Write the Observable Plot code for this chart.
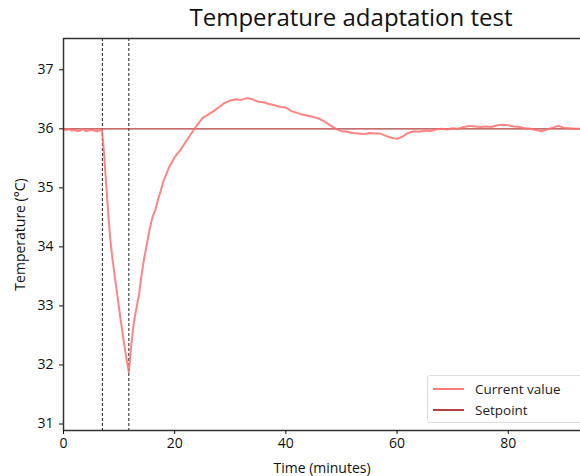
<!DOCTYPE html>
<html>
<head>
<meta charset="utf-8">
<script src="https://cdn.jsdelivr.net/npm/d3@7"></script>
<script src="https://cdn.jsdelivr.net/npm/@observablehq/plot@0.6"></script>
<style>
  html, body { margin: 0; padding: 0; background: #fff; }
  #wrap { position: relative; width: 580px; height: 476px; overflow: hidden; font-family: "Open Sans", sans-serif; }
  #title { position: absolute; left: 0; top: 2px; width: 702px; text-align: center; font-size: 24px; color: #111; line-height: 30px; }
  #chart { position: absolute; left: 0; top: 34px; }
  #legend { position: absolute; left: 427px; top: 375px; width: 170px; height: 46px; border: 1px solid #ddd; border-radius: 3px; background: rgba(255,255,255,0.9); font-size: 13.5px; color: #222; }
  .item { position: absolute; left: 5px; display: flex; align-items: center; }
  .swatch { width: 31px; height: 0; border-top: 2px solid; margin-right: 11px; }
</style>
</head>
<body>
<div id="wrap">
  <div id="title">Temperature adaptation test</div>
  <div id="chart"></div>
  <div id="legend">
    <div class="item" style="top:4px"><div class="swatch" style="border-color:#ff7b7b"></div><span>Current value</span></div>
    <div class="item" style="top:25px"><div class="swatch" style="border-color:#b84040"></div><span>Setpoint</span></div>
  </div>
</div>
<script>
const time = [0,0.5,1,1.5,2,2.5,3,3.5,4,4.5,5,5.5,6,6.5,6.9,7.2,7.5,7.8,8.1,8.4,8.8,9.3,9.8,10.3,10.8,11.3,11.75,12.2,12.7,13.2,13.6,14.0,14.5,15.0,15.5,16.0,16.5,17.0,17.5,18.0,19,20,21,22,23,24,25,26,27,28,29,30,31,32,33,34,35,36,37,38,39,40,41,42,43,44,45,46,47,48,49,50,51,52,53,54,55,56,57,58,59,60,61,62,63,64,65,66,67,68,69,70,71,72,73,74,75,76,77,78,79,80,81,82,83,84,85,86,87,88,89,90,91,92,93];
const temperature = [35.99,35.98,36.00,35.97,35.98,35.96,35.97,36.00,35.96,35.97,35.98,35.97,35.96,35.97,35.99,35.7,35.3,34.9,34.5,34.15,33.8,33.45,33.1,32.75,32.42,32.12,31.88,32.35,32.75,33.0,33.2,33.5,33.8,34.05,34.3,34.5,34.62,34.8,34.95,35.12,35.35,35.52,35.64,35.78,35.92,36.06,36.18,36.24,36.3,36.37,36.44,36.48,36.5,36.49,36.52,36.5,36.46,36.45,36.42,36.4,36.37,36.36,36.3,36.27,36.24,36.22,36.2,36.17,36.12,36.06,36.0,35.96,35.95,35.93,35.92,35.91,35.93,35.92,35.92,35.88,35.85,35.83,35.87,35.93,35.96,35.95,35.97,35.96,35.99,36.0,35.99,36.01,36.0,36.03,36.05,36.04,36.03,36.04,36.03,36.06,36.07,36.06,36.04,36.03,36.01,36.0,35.98,35.96,35.99,36.02,36.05,36.02,36.01,36.0,36.0];
const setpoint = [36];
const markers = [7, 11.75];
const xTicks = [0, 20, 40, 60, 80];
const yTicks = [31, 32, 33, 34, 35, 36, 37];
const xDomain = [0, 93];
const yDomain = [30.89, 37.53];

const data = time.map((t, i) => ({t, v: temperature[i]}));

const chart = Plot.plot({
  width: 580,
  height: 442,
  marginTop: 4,
  marginBottom: 46,
  marginLeft: 63,
  marginRight: 0,
  style: { fontFamily: "Open Sans, sans-serif", fontSize: "14px", color: "#111", background: "#fff" },
  x: { domain: xDomain },
  y: { domain: yDomain },
  marks: [
    Plot.ruleX(markers, { stroke: "#333", strokeWidth: 1.1, strokeDasharray: "3,2" }),
    Plot.ruleY(setpoint, { stroke: "#a82828", strokeWidth: 1.4, strokeOpacity: 0.9 }),
    Plot.line(data, { x: "t", y: "v", stroke: "#ff6e6e", strokeWidth: 2, strokeOpacity: 0.85 }),
    Plot.ruleX([xDomain[0]], { stroke: "#333", strokeWidth: 1.5 }),
    Plot.ruleY([yDomain[0], yDomain[1]], { stroke: "#333", strokeWidth: 1.5 }),
    Plot.axisX({ ticks: xTicks, tickFormat: "d", tickSize: 4, tickPadding: 4, label: "Time (minutes)", labelAnchor: "center", labelArrow: "none", labelOffset: 42, fontSize: 14 }),
    Plot.axisY({ ticks: yTicks, tickFormat: "d", tickSize: 4, tickPadding: 6, label: "Temperature (°C)", labelAnchor: "center", labelArrow: "none", labelOffset: 48, fontSize: 14 })
  ]
});
document.getElementById("chart").appendChild(chart);
</script>
</body>
</html>
